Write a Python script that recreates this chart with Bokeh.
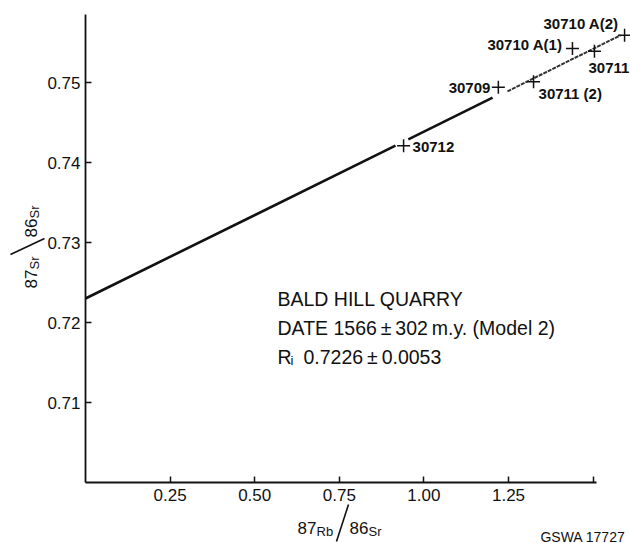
import math
from bokeh.plotting import figure
from bokeh.models import Label, FixedTicker, ColumnDataSource, Range1d
from bokeh.core.properties import value
from bokeh.embed import file_html
from bokeh.resources import INLINE

# ---- data ----
sample_ids = ["30712", "30709", "30711 (2)", "30710 A(1)", "30711", "30710 A(2)"]
rb86_sr86 = [0.940, 1.220, 1.324, 1.439, 1.504, 1.593]
sr87_sr86 = [0.7421, 0.7494, 0.7501, 0.75425, 0.7539, 0.7559]

# isochron drawn in three pieces (gaps around the crosses)
iso_solid_x = [[0.0, 0.916], [0.954, 1.203]]
iso_solid_y = [[0.7230, 0.7421], [0.7429, 0.7481]]
iso_faint_x = [1.247, 1.581]
iso_faint_y = [0.7489, 0.7559]

x_ticks = [0.25, 0.50, 0.75, 1.00, 1.25, 1.50]
x_tick_labels = ["0.25", "0.50", "0.75", "1.00", "1.25", ""]
y_ticks = [0.71, 0.72, 0.73, 0.74, 0.75]
y_tick_labels = ["0.71", "0.72", "0.73", "0.74", "0.75"]

caption_lines = ["BALD HILL QUARRY", "DATE 1566\u2009\u00b1\u2009302\u2009m.y. (Model 2)"]
ri_text = "0.7226\u2009\u00b1\u20090.0053"

# ---- styles / layout ----
INK = "#111111"
SANS = "Liberation Sans"
W, H = 630, 543
ORIGIN_X, ORIGIN_Y = 85, 482   # page pixel of (0, 0.70)
PX_X = 338.4      # px per unit of 87Rb/86Sr
PX_Y = 8000.0     # px per unit of 87Sr/86Sr
X0, Y0 = 0.0, 0.70

p = figure(width=W, height=H, output_backend="svg", toolbar_location=None,
           x_range=Range1d(X0 - ORIGIN_X / PX_X, X0 + (W - ORIGIN_X) / PX_X),
           y_range=Range1d(Y0 - (H - ORIGIN_Y) / PX_Y, Y0 + ORIGIN_Y / PX_Y),
           min_border_left=0, min_border_right=0, min_border_top=0,
           min_border_bottom=0)
p.outline_line_color = None
p.grid.visible = False
p.background_fill_color = "white"
p.border_fill_color = "white"

for ax in (p.xaxis[0], p.yaxis[0]):
    ax.axis_line_color = INK
    ax.axis_line_width = 1.8
    ax.major_tick_line_color = INK
    ax.major_tick_line_width = 1.5
    ax.major_tick_in = 6
    ax.major_tick_out = 0
    ax.minor_tick_line_color = None
    ax.major_label_text_font = SANS
    ax.major_label_text_font_size = "17px"
    ax.major_label_text_color = INK

p.xaxis.ticker = FixedTicker(ticks=x_ticks)
p.xaxis.major_label_overrides = dict(zip(x_ticks, x_tick_labels))
p.xaxis.bounds = (0.0, 1.51)
p.xaxis.fixed_location = Y0
p.xaxis.major_label_standoff = 6
p.yaxis.ticker = FixedTicker(ticks=y_ticks)
p.yaxis.major_label_overrides = dict(zip(y_ticks, y_tick_labels))
p.yaxis.bounds = (0.70, 0.7585)
p.yaxis.fixed_location = X0
p.yaxis.major_label_standoff = 5

# isochron
p.multi_line(iso_solid_x, iso_solid_y, line_color=INK, line_width=2.6)
p.line(iso_faint_x, iso_faint_y, line_color="#333333", line_width=2.0, line_dash="4 1")

# points
src = ColumnDataSource(dict(
    x=rb86_sr86, y=sr87_sr86, name=sample_ids,
    align=["left", "right", "left", "right", "left", "right"],
    dx=[9, -8, 5, -10, -6, -6],
    dy=[1, 1, 12, -4, 17, -12],
))
p.scatter("x", "y", source=src, marker="cross", size=13, line_color=INK, line_width=1.5)
p.text("x", "y", text="name", source=src, x_offset="dx", y_offset="dy",
       text_align="align", text_baseline="middle",
       text_font=value(SANS), text_font_style="bold", text_font_size="15px",
       text_color=INK)


def at(rx, ry):
    """page pixel position -> data coordinates of this figure"""
    return X0 + (rx - ORIGIN_X) / PX_X, Y0 + (ORIGIN_Y - ry) / PX_Y


def lab(text, rx, ry, size, align="left", angle=0.0, style="normal"):
    x, y = at(rx, ry)
    p.add_layout(Label(x=x, y=y, text=text, text_font=SANS, text_font_size=f"{size}px",
                       text_align=align, text_baseline="alphabetic", angle=angle,
                       text_color=INK, text_font_style=style))


def stroke(rx0, ry0, rx1, ry1):
    """thin typographic slash between two page pixel positions"""
    (x0, y0_), (x1, y1_) = at(rx0, ry0), at(rx1, ry1)
    p.segment(x0=[x0], y0=[y0_], x1=[x1], y1=[y1_], line_color=INK, line_width=1.6)


# caption
lab(caption_lines[0], 277, 298, 19.5)
lab(caption_lines[1], 277, 327, 19.5)
lab("R", 277, 356, 19.5)
lab("i", 290, 360, 13)
lab(ri_text, 303, 356, 19.5)

# x axis title  87Rb/86Sr
lab("87", 297, 527, 17)
lab("Rb", 316, 531, 13)
stroke(336, 541, 348, 504)
lab("86", 349, 527, 17)
lab("Sr", 368, 531, 13)

# y axis title (rotated)
R = math.pi / 2
y0 = 288
lab("87", 30, y0, 17, angle=R)
lab("Sr", 34, y0 - 19, 13, angle=R)
stroke(10, y0 - 34, 44, y0 - 50)
lab("86", 30, y0 - 51, 17, angle=R)
lab("Sr", 34, y0 - 70, 13, angle=R)

# figure reference
lab("GSWA 17727", 625, 536, 14, align="right")

open("out.html", "w").write(file_html(p, INLINE))
